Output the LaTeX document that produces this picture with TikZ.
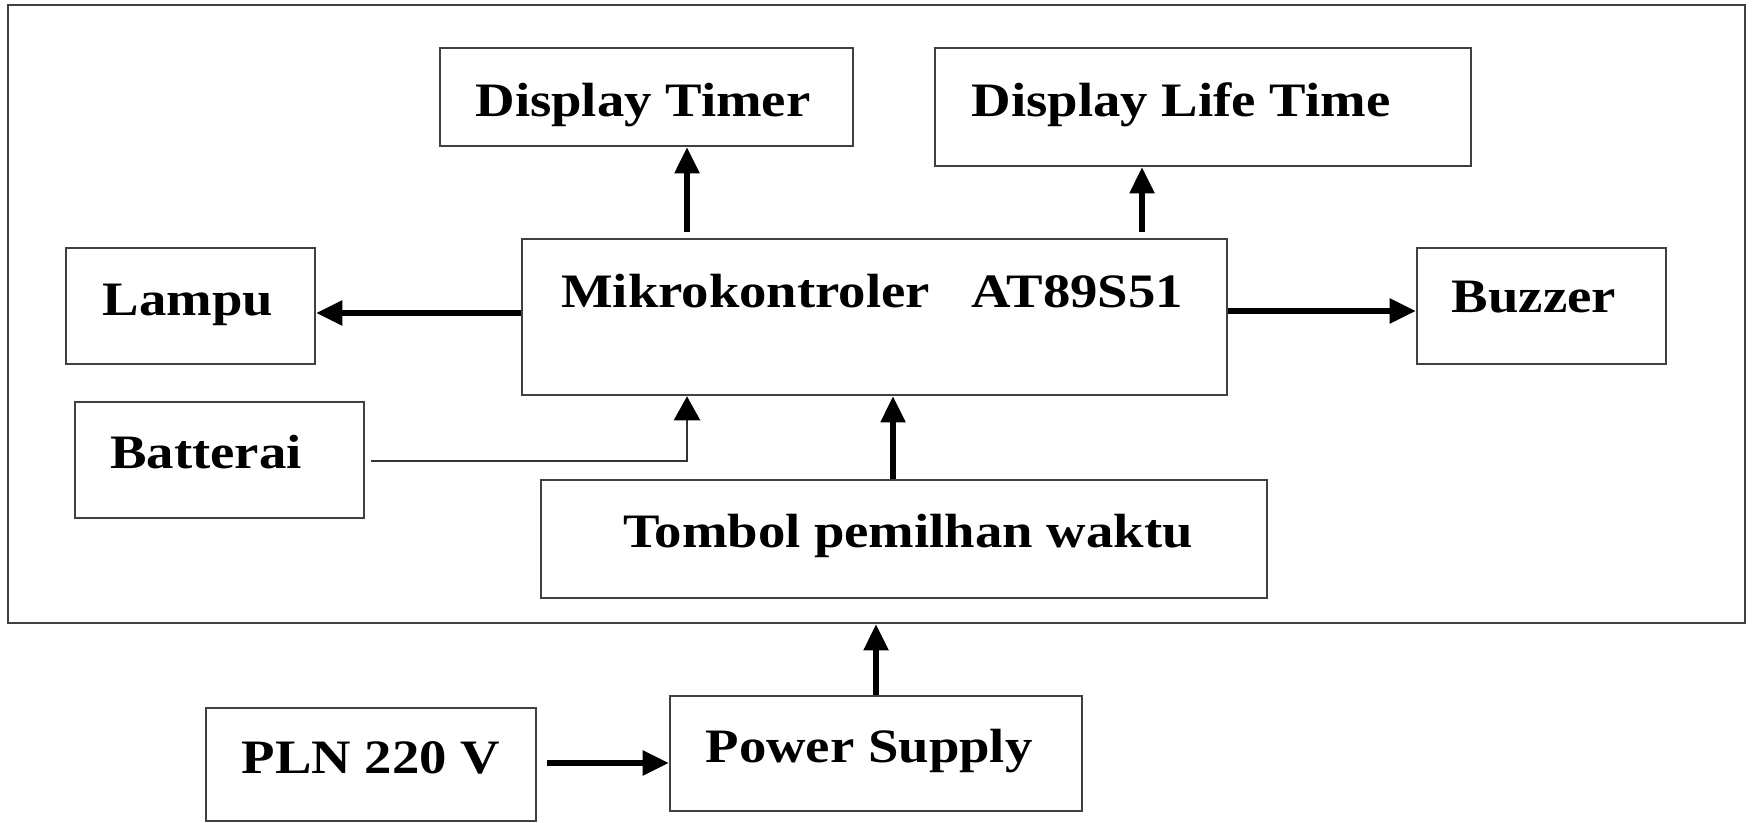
\documentclass[tikz,border=0pt]{standalone}
\usepackage{fontspec}
\setmainfont{Liberation Serif}
\usepackage{graphicx}
\usetikzlibrary{fit,arrows.meta}
\newcommand\wide[1]{\scalebox{1.14}[1]{#1}}
\begin{document}
\begin{tikzpicture}[x=0.5pt,y=-0.5pt,
 box/.style={draw=black!75, line width=1.3pt, inner sep=0pt},
 txt/.style={anchor=base, inner sep=0pt, font=\fontsize{24}{28}\selectfont\bfseries},
 arr/.style={line width=2.6pt, -{Triangle[length=13pt,width=12pt]}},
 thinarr/.style={draw=black!80, line width=1.2pt, -{Triangle[length=12pt,width=13pt,black]}}]
\useasboundingbox[fill=white] (0,0) rectangle (1754,823);
% boxes
\node[box, fit={(8,5) (1745,623)}] (frame) {};
\node[box, fit={(440,48) (853,146)}] (dt) {};
\node[box, fit={(935,48) (1471,166)}] (dlt) {};
\node[box, fit={(66,248) (315,364)}] (lampu) {};
\node[box, fit={(522,239) (1227,395)}] (mk) {};
\node[box, fit={(1417,248) (1666,364)}] (buz) {};
\node[box, fit={(75,402) (364,518)}] (bat) {};
\node[box, fit={(541,480) (1267,598)}] (tom) {};
\node[box, fit={(206,708) (536,821)}] (pln) {};
\node[box, fit={(670,696) (1082,811)}] (ps) {};
% texts
\node[txt] (tdt) at (643,117) {\wide{Display Timer}};
\node[txt] (tdlt) at (1181,117) {\wide{Display Life Time}};
\node[txt] (tlampu) at (188,315) {\wide{Lampu}};
\node[txt] (tmk) at (872,307) {\wide{Mikrokontroler\hspace{0.75em}AT89S51}};
\node[txt] (tbuz) at (1534,313) {\wide{Buzzer}};
\node[txt] (tbat) at (206,468) {\wide{Batterai}};
\node[txt] (ttom) at (908,547) {\wide{Tombol pemilhan waktu}};
\node[txt] (tpln) at (371,773) {\wide{PLN 220 V}};
\node[txt] (tps) at (869,762) {\wide{Power Supply}};
% helper coordinates
\coordinate (c1) at (687,0);
\coordinate (c2) at (1142,0);
\coordinate (c3) at (893,0);
\coordinate (c4) at (876,0);
\coordinate (r1) at (0,313);
\coordinate (r2) at (0,311);
\coordinate (r3) at (0,461);
\coordinate (r4) at (0,763);
\coordinate (batend) at (371,461);
\coordinate (plnend) at (547,763);
% connectors
\draw[arr, shorten <=3pt] (c1 |- mk.north) -- (c1 |- dt.south);
\draw[arr, shorten <=3pt] (c2 |- mk.north) -- (c2 |- dlt.south);
\draw[arr] (r1 -| mk.west) -- (r1 -| lampu.east);
\draw[arr] (r2 -| mk.east) -- (r2 -| buz.west);
\draw[thinarr] (batend) -- (c1 |- r3) -- (c1 |- mk.south);
\draw[arr] (c3 |- tom.north) -- (c3 |- mk.south);
\draw[arr] (c4 |- ps.north) -- (c4 |- frame.south);
\draw[arr] (plnend) -- (plnend -| ps.west);
\end{tikzpicture}
\end{document}
